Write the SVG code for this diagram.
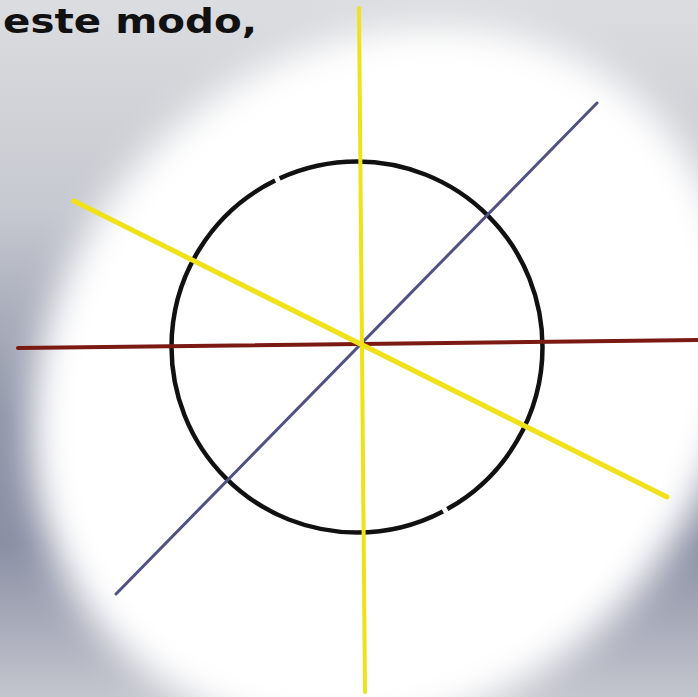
<svg xmlns="http://www.w3.org/2000/svg" width="698" height="697" viewBox="0 0 698 697">
  <defs>
    <linearGradient id="bg" x1="0" y1="0" x2="0" y2="1">
      <stop offset="0" stop-color="#dcdde0"/>
      <stop offset="0.3" stop-color="#c6c9d0"/>
      <stop offset="0.6" stop-color="#8f94a8"/>
      <stop offset="0.78" stop-color="#8a8fa4"/>
      <stop offset="1" stop-color="#c4c6ce"/>
    </linearGradient>
    <filter id="blur" x="-20%" y="-20%" width="140%" height="140%">
      <feGaussianBlur stdDeviation="18"/>
    </filter>
    <style>
      .ax { fill: none; stroke-linecap: round; }
      .yel { stroke: #eee21c; stroke-width: 4; }
      .yel2 { stroke: #f0e11a; stroke-width: 5; }
      .red { stroke: #7a1a12; stroke-width: 4; }
      .blu { stroke: #4f5282; stroke-width: 3; }
      .circ { fill: none; stroke: #111; stroke-width: 4.5; }
      .txt { font-family: "DejaVu Sans", "Liberation Sans", sans-serif; font-weight: bold; font-size: 33px; fill: #111; }
    </style>
  </defs>
  <rect x="0" y="0" width="698" height="697" fill="url(#bg)"/>
  <ellipse cx="385" cy="380" rx="378" ry="328" fill="#ffffff" filter="url(#blur)" transform="rotate(-45 385 380)"/>
  <text class="txt" x="3" y="33" textLength="254" lengthAdjust="spacingAndGlyphs">este modo,</text>
  <g id="circle">
    <circle class="circ" cx="357" cy="347" r="185.5" stroke-dasharray="197 5 587 5 371.5"/>
  </g>
  <g id="connectors">
    <line class="ax red" x1="18" y1="348" x2="698" y2="340"/>
    <line class="ax blu" x1="597" y1="103" x2="116" y2="594"/>
    <line class="ax yel2" x1="74" y1="201" x2="667" y2="497"/>
    <line class="ax yel" x1="359" y1="8" x2="365" y2="692"/>
  </g>
</svg>
